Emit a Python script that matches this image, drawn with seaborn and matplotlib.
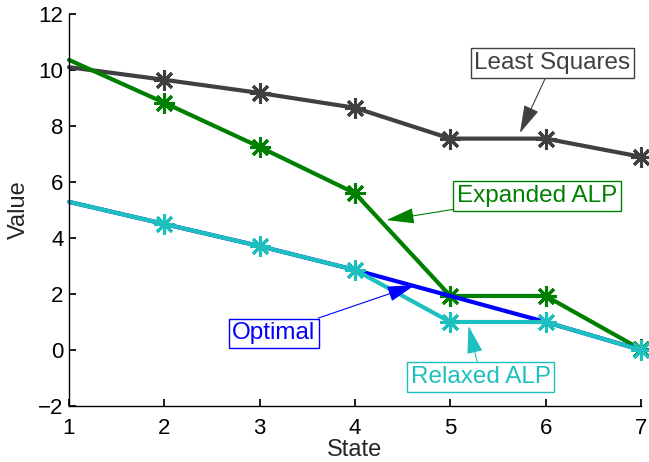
import numpy as np
import pandas as pd
import matplotlib
matplotlib.use("Agg")
import matplotlib.pyplot as plt
import seaborn as sns

# chart data
states = [1, 2, 3, 4, 5, 6, 7]
least_squares = [10.1, 9.65, 9.18, 8.65, 7.55, 7.55, 6.9]
expanded_alp = [10.36, 8.83, 7.25, 5.6, 1.93, 1.93, 0.02]
optimal = [5.29, 4.5, 3.71, 2.86, 1.93, 1.0, 0.0]
relaxed_alp = [5.29, 4.5, 3.71, 2.86, 1.0, 1.0, 0.0]

names = ["Least Squares", "Expanded ALP", "Optimal", "Relaxed ALP"]
colors = {"Least Squares": "#404040", "Expanded ALP": "#008000",
          "Optimal": "#0000ff", "Relaxed ALP": "#1ebfbf"}

sns.set_theme(style="ticks")
plt.rcParams['font.family'] = ['Liberation Sans', 'DejaVu Sans']

df = pd.DataFrame({
    "State": states * 4,
    "Value": least_squares + expanded_alp + optimal + relaxed_alp,
    "Method": sum([[n] * len(states) for n in names], []),
})

fig = plt.figure(figsize=(6.49, 4.62), dpi=100)
ax = fig.add_axes([69 / 649, 56 / 462, 572 / 649, 392 / 462])

# asterisk marker like matlab's '*'
ast = (8, 2, 0)
for n in names:
    sub = df[df.Method == n]
    mk = None if n == "Optimal" else ast
    sns.lineplot(data=sub, x="State", y="Value", ax=ax, color=colors[n], lw=3,
                 marker=mk, markersize=15, markeredgewidth=2.2,
                 markeredgecolor=colors[n], markevery=slice(1, None),
                 legend=False, clip_on=False)

ax.set_xlim(1, 7)
ax.set_ylim(-2, 12)
ax.set_xticks(range(1, 8))
ax.set_yticks(range(-2, 13, 2))
ax.set_yticklabels(["\u22122"] + [str(v) for v in range(0, 13, 2)])
ax.tick_params(direction="in", length=5, labelsize=16, colors="black", pad=4)
ax.tick_params(axis="x", pad=9)
ax.set_xlabel("State", fontsize=17, labelpad=0)
ax.set_ylabel("Value", fontsize=17, labelpad=6)
sns.despine(ax=ax)
for s in ["left", "bottom"]:
    ax.spines[s].set_color("black")
    ax.spines[s].set_linewidth(1)

# labels with arrows
notes = [
    ("Least Squares", (6.07, 10.25), (5.73, 7.75)),
    ("Expanded ALP", (5.91, 5.5), (4.33, 4.64)),
    ("Optimal", (3.15, 0.6), (4.63, 2.32)),
    ("Relaxed ALP", (5.32, -0.96), (5.19, 0.86)),
]
for text, xy_text, xy in notes:
    c = colors[text]
    ax.annotate(text, xy=xy, xytext=xy_text, ha="center", va="center",
                fontsize=17.5, color=c,
                bbox=dict(boxstyle="square,pad=0.15", fc="white", ec=c, lw=1),
                arrowprops=dict(arrowstyle="-|>,head_length=1.0,head_width=0.28",
                                color=c, lw=0.8, shrinkA=0, shrinkB=0),
                zorder=5)

fig.savefig("out.png", dpi=100)
